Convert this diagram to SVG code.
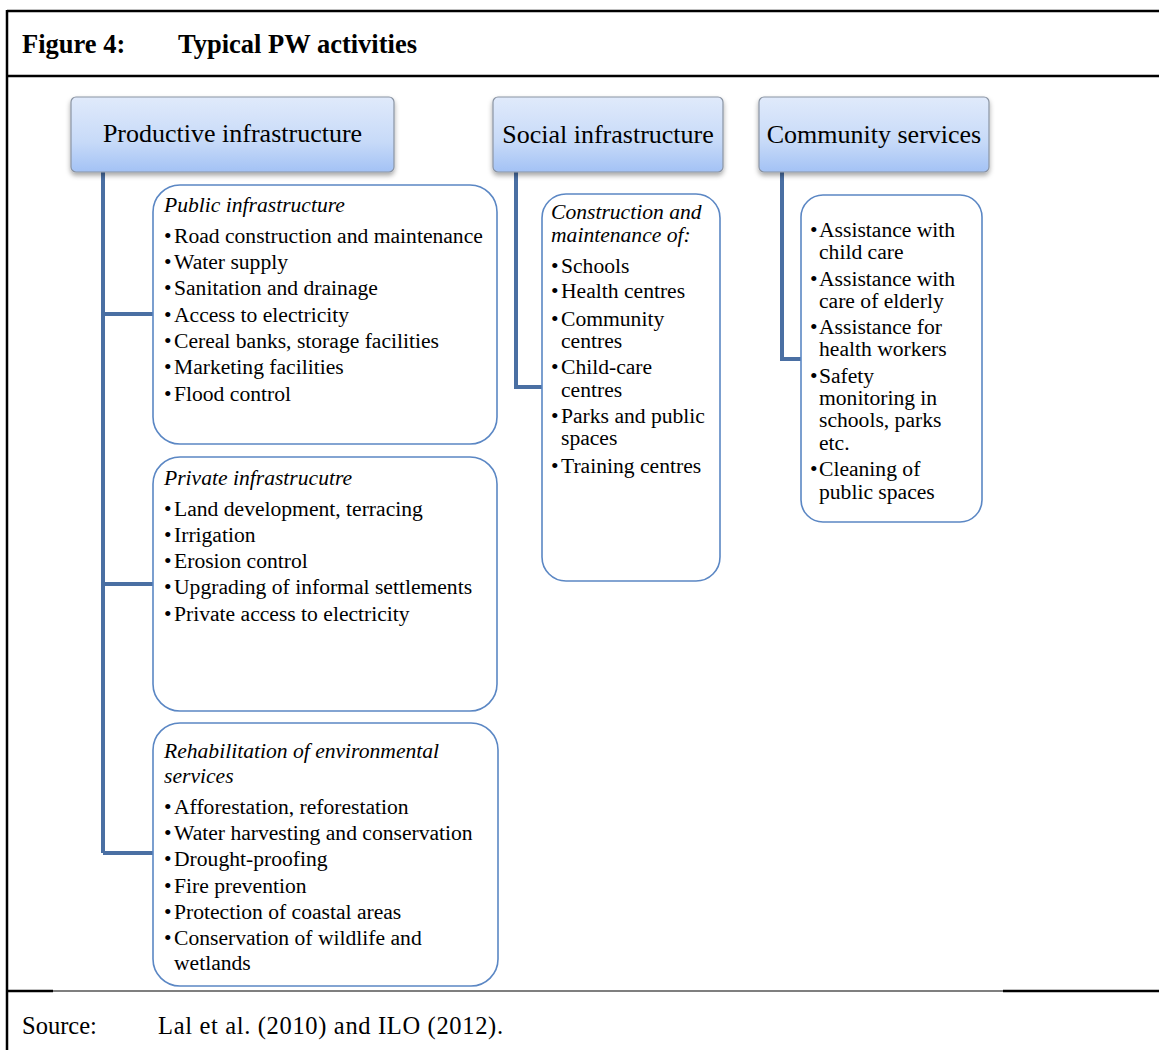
<svg xmlns="http://www.w3.org/2000/svg" width="1159" height="1050" viewBox="0 0 1159 1050">
<style>
.t{font-family:"Liberation Serif","Times New Roman",serif;fill:#000}
.title{font-size:26.5px;font-weight:bold}
.hd{font-size:26px;text-anchor:middle}
.b{font-size:21.6px}
.i{font-style:italic}
.src{font-size:24.5px}
.hbox{fill:url(#hg);stroke:#8a94a3;stroke-width:1.2;filter:url(#sh)}
.cbox{fill:#fff;stroke:#5b87c4;stroke-width:1.6}
.con{fill:none;stroke:#4a6fa3;stroke-width:4}
.frame{stroke:#000;stroke-width:2.5;fill:none}
</style>
<defs>
<linearGradient id="hg" x1="0" y1="0" x2="0" y2="1">
<stop offset="0" stop-color="#e0eafb"/>
<stop offset="0.6" stop-color="#c7daf8"/>
<stop offset="1" stop-color="#a3c2f5"/>
</linearGradient>
<filter id="sh" x="-10%" y="-20%" width="120%" height="150%">
<feDropShadow dx="0" dy="3" stdDeviation="2.5" flood-color="#000" flood-opacity="0.35"/>
</filter>
</defs>
<rect width="1159" height="1050" fill="#fff"/>
<g id="frame">
<line class="frame" x1="7" y1="11" x2="1159" y2="11"/>
<line class="frame" x1="7" y1="10" x2="7" y2="1050"/>
<line class="frame" x1="7" y1="76" x2="1159" y2="76"/>
<line stroke="#000" stroke-width="2.5" x1="7" y1="991" x2="53" y2="991"/>
<line stroke="#000" stroke-width="1.2" x1="53" y1="991" x2="1003" y2="991"/>
<line stroke="#000" stroke-width="2.5" x1="1003" y1="991" x2="1159" y2="991"/>
<text class="t title" x="22" y="53">Figure 4:</text>
<text class="t title" x="178" y="53">Typical PW activities</text>
<text class="t src" x="22" y="1034">Source:</text>
<text class="t src" x="158" y="1034" textLength="345" lengthAdjust="spacing">Lal et al. (2010) and ILO (2012).</text>
</g>
<g id="connectors">
<path class="con" d="M103 172 V853 M103 314 H153 M103 584 H153 M103 853 H153"/>
<path class="con" d="M516 172 V387 H542"/>
<path class="con" d="M782 172 V359 H801"/>
</g>
<g id="productive">
<rect class="hbox" x="71" y="97" width="323" height="75" rx="5"/>
<text class="t hd" x="232.5" y="142">Productive infrastructure</text>
</g>
<g id="social">
<rect class="hbox" x="493" y="97" width="230" height="75" rx="5"/>
<text class="t hd" x="608" y="143">Social infrastructure</text>
</g>
<g id="community">
<rect class="hbox" x="759" y="97" width="230" height="75" rx="5"/>
<text class="t hd" x="874" y="143">Community services</text>
</g>
<g id="public">
<rect class="cbox" x="153" y="185" width="344" height="259" rx="27"/>
<text class="t b i" x="164" y="212">Public infrastructure</text>
<g class="t b">
<text x="164" y="243">•</text><text x="174" y="243">Road construction and maintenance</text>
<text x="164" y="269">•</text><text x="174" y="269">Water supply</text>
<text x="164" y="295">•</text><text x="174" y="295">Sanitation and drainage</text>
<text x="164" y="322">•</text><text x="174" y="322">Access to electricity</text>
<text x="164" y="348">•</text><text x="174" y="348">Cereal banks, storage facilities</text>
<text x="164" y="374">•</text><text x="174" y="374">Marketing facilities</text>
<text x="164" y="401">•</text><text x="174" y="401">Flood control</text>
</g>
</g>
<g id="private">
<rect class="cbox" x="153" y="457" width="344" height="254" rx="27"/>
<text class="t b i" x="164" y="485">Private infrastrucutre</text>
<g class="t b">
<text x="164" y="516">•</text><text x="174" y="516">Land development, terracing</text>
<text x="164" y="542">•</text><text x="174" y="542">Irrigation</text>
<text x="164" y="568">•</text><text x="174" y="568">Erosion control</text>
<text x="164" y="594">•</text><text x="174" y="594">Upgrading of informal settlements</text>
<text x="164" y="621">•</text><text x="174" y="621">Private access to electricity</text>
</g>
</g>
<g id="rehabilitation">
<rect class="cbox" x="153" y="723" width="345" height="263" rx="27"/>
<text class="t b i" x="164" y="758">Rehabilitation of environmental</text>
<text class="t b i" x="164" y="783">services</text>
<g class="t b">
<text x="164" y="814">•</text><text x="174" y="814">Afforestation, reforestation</text>
<text x="164" y="840">•</text><text x="174" y="840">Water harvesting and conservation</text>
<text x="164" y="866">•</text><text x="174" y="866">Drought-proofing</text>
<text x="164" y="893">•</text><text x="174" y="893">Fire prevention</text>
<text x="164" y="919">•</text><text x="174" y="919">Protection of coastal areas</text>
<text x="164" y="945">•</text><text x="174" y="945">Conservation of wildlife and</text>
<text x="174" y="970">wetlands</text>
</g>
</g>
<g id="social-items">
<rect class="cbox" x="542" y="194" width="178" height="387" rx="24"/>
<text class="t b i" x="551" y="219">Construction and</text>
<text class="t b i" x="551" y="242">maintenance of:</text>
<g class="t b">
<text x="551" y="273">•</text><text x="561" y="273">Schools</text>
<text x="551" y="298">•</text><text x="561" y="298">Health centres</text>
<text x="551" y="326">•</text><text x="561" y="326">Community</text>
<text x="561" y="348">centres</text>
<text x="551" y="374">•</text><text x="561" y="374">Child-care</text>
<text x="561" y="397">centres</text>
<text x="551" y="423">•</text><text x="561" y="423">Parks and public</text>
<text x="561" y="445">spaces</text>
<text x="551" y="473">•</text><text x="561" y="473">Training centres</text>
</g>
</g>
<g id="community-items">
<rect class="cbox" x="801" y="195" width="181" height="327" rx="22"/>
<g class="t b">
<text x="810" y="237">•</text><text x="819" y="237">Assistance with</text>
<text x="819" y="259">child care</text>
<text x="810" y="286">•</text><text x="819" y="286">Assistance with</text>
<text x="819" y="308">care of elderly</text>
<text x="810" y="334">•</text><text x="819" y="334">Assistance for</text>
<text x="819" y="356">health workers</text>
<text x="810" y="383">•</text><text x="819" y="383">Safety</text>
<text x="819" y="405">monitoring in</text>
<text x="819" y="427">schools, parks</text>
<text x="819" y="450">etc.</text>
<text x="810" y="476">•</text><text x="819" y="476">Cleaning of</text>
<text x="819" y="499">public spaces</text>
</g>
</g>
</svg>
